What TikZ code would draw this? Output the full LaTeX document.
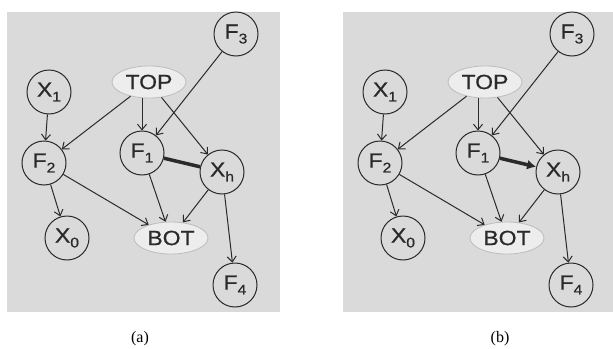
\documentclass[tikz,border=0pt]{standalone}
\usepackage{fontspec}
\usepackage{graphicx}
\setmainfont{Liberation Serif}
\newfontfamily\labelfont{Liberation Sans}[FakeBold=0.7]
\usetikzlibrary{arrows.meta,shapes.geometric}

\definecolor{panelgrey}{HTML}{DADADA}
\definecolor{inkgrey}{HTML}{2A2A2A}
\definecolor{ovalfill}{HTML}{EDEDED}
\definecolor{ovalline}{HTML}{BDBDBD}

% node label: slightly widened sans text
\newcommand\lab[1]{\scalebox{1.12}[1]{#1}}
% lowered subscript in the label font
\newcommand\lowsub[1]{\raisebox{-0.45ex}{\fontsize{14}{14}\selectfont #1}}

\tikzset{
  varnode/.style={circle, draw=inkgrey, line width=1pt, fill=panelgrey,
    minimum size=44pt, inner sep=0pt, text=inkgrey,
    font=\labelfont\fontsize{20.5}{20.5}\selectfont},
  ovalnode/.style={ellipse, draw=ovalline, line width=0.8pt, fill=ovalfill,
    minimum width=74pt, minimum height=32pt, inner sep=0pt, text=inkgrey,
    font=\labelfont\fontsize{20.5}{20.5}\selectfont},
  link/.style={draw=inkgrey, line width=1pt,
    -{Straight Barb[length=5.5pt,width=9pt,line width=1pt]}},
  plainlink/.style={draw=inkgrey, line width=3.5pt},
  boldlink/.style={draw=inkgrey, line width=3.5pt,
    -{Latex[length=9pt,width=10pt]}},
  caption/.style={font=\fontsize{16}{16}\selectfont, inner sep=0pt}
}

% one network panel: #1 name prefix, #2 horizontal shift, #3 style of the F1--Xh link
\newcommand\netpanel[3]{%
  \begin{scope}[xshift=#2]
    \fill[panelgrey] (7,12) rectangle (280,312);
    \node[ovalnode] (#1top) at (149,82) {\lab{TOP}};
    \node[ovalnode] (#1bot) at (171,238) {\lab{BOT}};
    \node[varnode] (#1f3) at (236,34) {\lab{F\lowsub{3}}};
    \node[varnode] (#1x1) at (49,92) {\lab{X\lowsub{1}}};
    \node[varnode] (#1f2) at (44,163) {\lab{F\lowsub{2}}};
    \node[varnode] (#1f1) at (142,153) {\lab{F\lowsub{1}}};
    \node[varnode] (#1xh) at (222,172) {\lab{X\lowsub{h}}};
    \node[varnode] (#1x0) at (67,238) {\lab{X\lowsub{0}}};
    \node[varnode] (#1f4) at (235,285) {\lab{F\lowsub{4}}};
    \draw[link] (#1x1) -- (#1f2);
    \draw[link] (#1top) -- (#1f2);
    \draw[link] (#1top.south -| #1f1.north) -- (#1f1);
    \draw[link] (#1top) -- (#1xh);
    \draw[link] (#1f3) -- (#1f1);
    \draw[link] (#1f2) -- (#1x0);
    \draw[link] (#1f2) -- (#1bot);
    \draw[link] (#1f1) -- (#1bot);
    \draw[link] (#1xh) -- (#1bot);
    \draw[link] (#1xh) -- (#1f4);
    \draw[#3] (#1f1) -- (#1xh);
  \end{scope}}

\begin{document}
\begin{tikzpicture}[x=1pt, y=-1pt]
  \useasboundingbox (0,0) rectangle (613,348);
  \netpanel{a}{0pt}{plainlink}
  \netpanel{b}{336pt}{boldlink}
  \node[caption] (capa) at (140,339) {(a)};
  \node[caption] (capb) at (500,339) {(b)};
\end{tikzpicture}
\end{document}
